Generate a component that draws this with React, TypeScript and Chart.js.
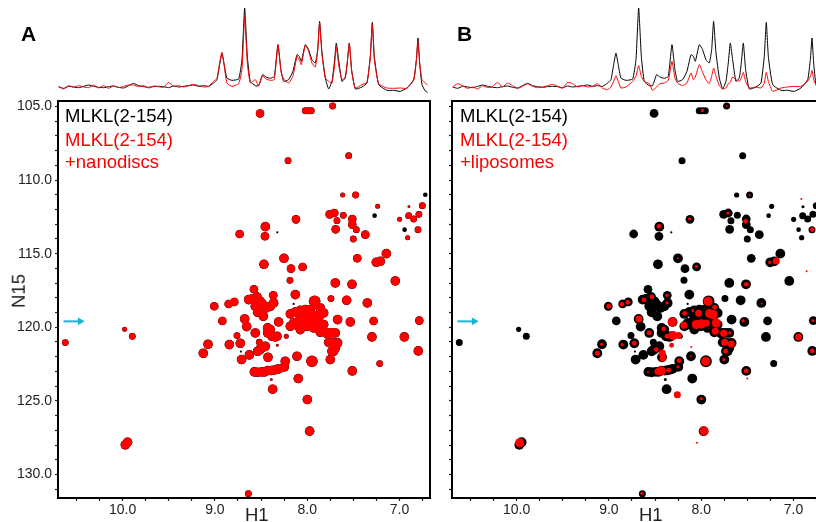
import React, { useEffect, useRef } from "react";
import { Chart, registerables } from "chart.js";

Chart.register(...registerables);

const FONT = "'Liberation Sans', Arial, sans-serif";
const RED = "#ff0000";
const BLACK = "#000000";
const CYAN = "#18b4d6";

// --- 1D traces: shared chemical shift grid (ppm) and intensities
const tracePpm = [
  10.693, 10.639, 10.585, 10.531, 10.476, 10.422, 10.368, 10.314, 10.26, 10.206, 10.152, 10.098, 10.043, 9.989, 9.935, 9.881,
  9.827, 9.773, 9.718, 9.664, 9.61, 9.556, 9.502, 9.447, 9.393, 9.339, 9.285, 9.231, 9.177, 9.122, 9.068,
  9.014, 8.978, 8.949, 8.924, 8.899, 8.87, 8.816, 8.743, 8.707, 8.678, 8.649, 8.617, 8.563, 8.527, 8.483, 8.447,
  8.4, 8.357, 8.317, 8.285, 8.256, 8.202, 8.155, 8.111, 8.086, 8.064, 8.021, 7.985, 7.949, 7.913, 7.887, 7.866,
  7.84, 7.804, 7.768, 7.732, 7.707, 7.685, 7.66, 7.624, 7.588, 7.566, 7.544, 7.519, 7.479, 7.407, 7.353, 7.317,
  7.295, 7.273, 7.226, 7.136, 7.064, 6.992, 6.92, 6.847, 6.818, 6.8, 6.782, 6.757, 6.721, 6.696,
];
const traceFree = [
  18, 14, 20, 18, 16, 20, 24, 20, 17, 16, 19, 21, 17, 15, 22, 29,
  22, 19, 17, 19, 20, 19, 16, 21, 18, 20, 22, 24, 20, 22, 20,
  30, 40, 85, 120, 85, 45, 38, 42, 100, 255, 110, 35, 22, 22, 55, 48,
  44, 50, 145, 70, 35, 40, 65, 115, 110, 95, 145, 130, 100, 90, 130, 215,
  120, 45, 12, 35, 90, 150, 100, 35, 45, 90, 150, 70, 12, 18, 30, 110,
  212, 110, 25, 8, 8, 5, 15, 40, 100, 165, 90, 25, 6, 2,
];
const traceNanodiscs = [
  20, 12, 22, 17, 22, 18, 16, 24, 15, 22, 14, 21, 16, 20, 24, 24,
  19, 22, 15, 21, 19, 17, 32, 20, 22, 18, 22, 26, 22, 18, 20,
  35, 44, 90, 122, 80, 30, 20, 28, 70, 228, 90, 30, 40, 22, 52, 42,
  38, 40, 145, 65, 42, 30, 50, 110, 100, 85, 143, 125, 90, 78, 125, 210,
  115, 45, 35, 30, 75, 138, 85, 40, 48, 95, 150, 65, 15, 25, 32, 105,
  205, 100, 28, 15, 14, 15, 14, 38, 95, 155, 90, 40, 30, 24,
];
const traceLiposomes = [
  18, 28, 22, 14, 18, 12, 22, 16, 20, 32, 18, 30, 22, 14, 20, 28,
  20, 16, 18, 22, 26, 20, 14, 32, 28, 18, 22, 18, 20, 28, 14,
  10, 18, 35, 52, 35, 15, 18, 35, 50, 82, 50, 35, 28, 8, 18, 28,
  30, 38, 95, 45, 30, 22, 30, 60, 40, 48, 85, 62, 40, 28, 50, 75,
  50, 22, 12, 15, 28, 32, 48, 40, 35, 45, 62, 35, 15, 18, 15, 30,
  62, 35, 5, 15, 18, 20, 20, 35, 50, 68, 40, 25, 20, 20,
];

// --- 2D peaks [H1 ppm, N15 ppm], grouped by contour size
const peaksXL = [[7.92, 118.236], [7.949, 122.309]];
const peaksL = [
  [8.454, 113.167], [8.252, 115.317], [8.469, 115.724], [7.696, 116.991], [7.515, 117.082], [7.046, 116.856], [8.129, 117.783],
  [7.573, 118.168], [7.349, 118.349], [7.143, 115.0], [7.208, 115.52], [7.252, 115.588], [8.476, 119.254], [7.671, 119.481],
  [7.533, 119.639], [8.678, 119.435], [8.656, 119.956], [8.31, 119.639], [8.563, 120.386], [7.299, 120.657], [6.948, 120.657],
  [9.075, 121.155], [8.844, 121.178], [8.725, 121.087], [8.627, 121.879], [8.425, 122.038], [9.126, 121.766], [8.711, 122.196],
  [8.111, 121.97], [7.75, 122.196], [8.238, 122.309], [8.248, 122.694], [7.512, 122.966], [8.097, 123.486], [8.375, 124.21],
  [7.999, 124.912], [6.797, 121.608], [8.635, 118.123], [8.544, 117.942], [8.563, 118.304], [8.526, 118.689], [8.537, 118.983],
  [8.443, 118.689], [8.4, 118.575], [8.364, 118.349], [8.183, 119.096], [8.075, 118.847], [7.967, 118.802], [7.858, 118.689],
  [7.822, 119.028], [7.931, 119.254], [8.021, 119.481], [8.183, 119.933], [8.129, 119.82], [8.057, 119.707], [7.967, 119.707],
  [7.894, 119.594], [7.822, 119.82], [8.075, 120.16], [7.858, 120.34], [7.768, 120.386], [7.696, 120.386], [8.4, 120.16],
  [8.382, 120.612], [8.328, 120.612], [7.768, 121.02], [7.714, 121.065], [7.671, 121.065], [7.696, 121.404], [7.732, 121.63],
  [8.508, 121.517], [8.454, 121.291], [8.573, 123.034], [8.49, 123.034], [8.429, 122.943], [8.364, 122.92], [8.31, 122.83],
  [9.946, 127.81], [9.971, 127.99], [7.974, 127.06],
  [8.129, 118.96], [8.021, 118.802], [7.913, 118.462], [7.876, 119.141], [7.985, 119.141], [8.057, 119.254], [8.093, 119.594],
  [8.003, 119.933], [7.931, 120.046], [8.147, 119.707], [7.84, 120.046], [7.876, 119.933], [7.786, 120.431], [7.732, 120.386],
  [7.949, 119.481], [7.876, 119.367], [8.075, 119.367], [8.599, 118.077], [8.508, 118.236], [8.563, 118.575], [8.49, 118.394],
  [8.472, 118.53], [8.537, 123.056], [8.461, 123.034], [8.393, 122.943], [8.335, 122.875], [8.508, 121.472], [8.479, 121.359],
  [8.537, 121.63], [8.429, 120.386], [8.429, 120.046], [8.346, 120.657], [7.75, 121.065], [7.685, 121.178], [7.714, 121.63],
];
const peaksM = [
  [8.122, 112.669], [8.732, 113.665], [8.458, 113.823], [7.692, 113.348], [7.707, 112.239], [7.757, 112.33], [7.512, 112.646],
  [7.512, 113.031], [7.371, 113.71], [8.176, 116.018], [8.05, 115.905], [8.577, 117.421], [8.368, 117.829], [9.007, 118.575],
  [8.851, 118.417], [8.79, 118.281], [8.92, 119.571], [7.281, 119.571], [6.786, 119.549], [7.458, 115.317], [8.511, 105.475],
];
const peaksS = [
  [7.476, 111.017], [6.753, 111.741], [6.901, 112.42], [6.79, 112.33], [6.847, 112.646], [7.678, 112.759], [7.468, 113.371],
  [7.501, 114.004], [6.8, 113.371], [8.187, 116.81], [7.743, 118.055], [8.761, 120.567], [8.519, 121.019], [7.215, 122.468],
  [7.609, 112.397], [8.021, 105.292], [7.988, 105.292], [7.956, 105.292], [7.725, 104.97], [8.208, 108.686], [7.551, 108.347],
  [9.895, 120.614], [10.621, 121.04], [8.638, 131.31],
];
const peaksXS = [
  [7.616, 111.017], [8.227, 120.612], [6.999, 112.669], [7.237, 111.786], [6.912, 113.914], [9.978, 120.139],
];
const peaksTiny = [[6.898, 111.809], [8.324, 121.223], [8.389, 123.554]];
const peaksFreeOnly = [[6.721, 110.994], [7.27, 112.42], [6.945, 113.371]];
const peaksFreeOnlyTiny = [[8.324, 113.552], [8.147, 118.417], [8.718, 121.653]];

// --- red contours remaining with liposomes
const lipoLarge = [
  [7.927, 118.236], [7.909, 119.073], [7.873, 119.141], [8.313, 119.639], [8.053, 119.82], [7.999, 119.775], [7.837, 119.707],
  [8.306, 120.567], [7.952, 122.309], [8.433, 122.966], [9.967, 127.85], [7.971, 127.06],
];
const lipoMedium = [
  [7.187, 115.498], [8.028, 119.051], [8.675, 119.435], [8.187, 119.865], [7.945, 119.707], [7.848, 120.273], [7.757, 120.408],
  [8.245, 120.567], [6.945, 120.657], [7.746, 121.02], [7.674, 121.133], [8.422, 121.744], [8.415, 122.083], [8.469, 123.011],
  [8.259, 124.58],
];
const lipoSmall = [
  [7.519, 112.805], [8.458, 113.144], [7.512, 117.082], [8.534, 117.942], [8.62, 118.145], [8.794, 118.304], [8.859, 118.44],
  [9.003, 118.575], [8.18, 119.051], [8.566, 120.386], [8.407, 120.114], [8.371, 120.612], [8.321, 121.223], [8.725, 121.087],
  [9.126, 121.766], [6.797, 121.608], [6.797, 113.371], [7.736, 121.63], [8.487, 121.517], [8.241, 122.264], [8.353, 122.92],
  [7.512, 122.966], [7.855, 118.643],
];
const lipoXS = [
  [7.71, 112.239], [8.126, 112.646], [8.053, 115.86], [7.259, 115.588], [8.371, 117.829], [8.371, 118.349], [7.548, 119.571],
  [6.79, 119.549], [9.079, 121.155], [8.855, 121.178], [7.754, 122.196], [8.252, 122.694], [7.999, 124.844], [7.988, 105.27],
  [8.642, 131.29], [8.09, 118.87], [7.692, 120.386],
];
const lipoTiny = [
  [7.476, 111.017], [6.916, 111.289], [6.858, 116.199], [7.346, 118.394], [8.108, 121.336], [7.501, 123.486], [8.577, 123.056],
  [8.115, 121.97], [8.252, 115.317], [8.047, 127.851], [7.722, 104.97],
];

// --- axes and annotations
const h1Ticks = [10.5, 10.25, 10, 9.75, 9.5, 9.25, 9, 8.75, 8.5, 8.25, 8, 7.75, 7.5, 7.25, 7, 6.75];
const n15Ticks = [105, 106, 107, 108, 109, 110, 111, 112, 113, 114, 115, 116, 117, 118, 119, 120, 121, 122, 123, 124, 125, 126, 127, 128, 129, 130, 131];
const arrowH1 = [10.64, 10.46];
const arrowN15 = [119.6, 119.6];

const H1_MIN = 6.67;
const H1_MAX = 10.7;
const N15_MIN = 104.63;
const N15_MAX = 131.6;
const TRACE_MAX = 270;

const toXY = (pairs: number[][]) => pairs.map(([x, y]) => ({ x, y }));

const peakSet = (pairs: number[][], color: string, radius: number, order: number) => ({
  type: "scatter" as const,
  data: toXY(pairs),
  pointRadius: radius,
  pointBackgroundColor: color,
  pointBorderWidth: 0,
  pointHoverRadius: radius,
  order,
});

const boxPlugin = {
  id: "box",
  afterDatasetsDraw(chart: any) {
    const { ctx, chartArea: a } = chart;
    ctx.save();
    ctx.strokeStyle = BLACK;
    ctx.lineWidth = 2;
    ctx.strokeRect(a.left, a.top, a.right - a.left, a.bottom - a.top);
    ctx.restore();
  },
};

function spectrumConfig(top: number[], bottom: number[]) {
  const line = (vals: number[], color: string, order: number) => ({
    data: tracePpm.map((x, i) => ({ x, y: vals[i] })),
    borderColor: color,
    borderWidth: 1,
    pointRadius: 0,
    tension: 0.15,
    order,
  });
  return {
    type: "line" as const,
    data: { datasets: [line(top, BLACK, 2), line(bottom, RED, 1)] },
    options: {
      animation: false as const,
      responsive: false,
      layout: { padding: { left: 58, right: 10, top: 3, bottom: 2 } },
      plugins: { legend: { display: false }, tooltip: { enabled: false } },
      scales: {
        x: { type: "linear" as const, reverse: true, min: H1_MIN, max: H1_MAX, display: false },
        y: { type: "linear" as const, min: 0, max: TRACE_MAX, display: false },
      },
    },
  };
}

function mapConfig(datasets: any[], showYLabels: boolean) {
  const arrow = {
    type: "scatter" as const,
    data: arrowH1.map((x, i) => ({ x, y: arrowN15[i] })),
    showLine: true,
    borderColor: CYAN,
    borderWidth: 2,
    pointStyle: "triangle",
    rotation: 90,
    pointRadius: [0, 4.5],
    pointBackgroundColor: CYAN,
    pointBorderWidth: 0,
    order: 0,
  };
  return {
    type: "scatter" as const,
    data: { datasets: [...datasets, arrow] },
    options: {
      animation: false as const,
      responsive: false,
      layout: { padding: { left: 0, right: 10, top: 6, bottom: 0 } },
      plugins: { legend: { display: false }, tooltip: { enabled: false } },
      scales: {
        x: {
          type: "linear" as const,
          reverse: true,
          min: H1_MIN,
          max: H1_MAX,
          afterBuildTicks: (s: any) => {
            s.ticks = h1Ticks.map((value) => ({ value }));
          },
          afterFit: (s: any) => {
            s.height = 24;
            s.paddingLeft = 0;
            s.paddingRight = 0;
          },
          grid: { drawOnChartArea: false, tickLength: 3, tickColor: "#222", tickWidth: 1.2 },
          border: { display: false },
          ticks: {
            autoSkip: false,
            maxRotation: 0,
            padding: 1,
            color: "#222",
            font: { family: FONT, size: 14 },
            callback: (v: any) => (Number.isInteger(v) ? Number(v).toFixed(1) : ""),
          },
        },
        y: {
          type: "linear" as const,
          reverse: true,
          min: N15_MIN,
          max: N15_MAX,
          afterBuildTicks: (s: any) => {
            s.ticks = n15Ticks.map((value) => ({ value }));
          },
          afterFit: (s: any) => {
            s.width = 58;
            s.paddingTop = 0;
            s.paddingBottom = 0;
          },
          grid: { drawOnChartArea: false, tickLength: 3, tickColor: "#222", tickWidth: 1.2 },
          border: { display: false },
          ticks: {
            autoSkip: false,
            padding: 3,
            color: "#222",
            font: { family: FONT, size: 14 },
            callback: (v: any) => (showYLabels && Number(v) % 5 === 0 ? Number(v).toFixed(1) : ""),
          },
        },
      },
    },
    plugins: [boxPlugin],
  };
}

const freeSets = (order: number, grow: number) => [
  peakSet(peaksXL, BLACK, 5.6 + grow, order),
  peakSet(peaksL, BLACK, 4.6 + grow, order),
  peakSet(peaksM, BLACK, 4.1 + grow, order),
  peakSet(peaksS, BLACK, 3.2 + grow, order),
  peakSet(peaksXS, BLACK, 2.3 + grow, order),
  peakSet(peaksTiny, BLACK, 1.2 + grow, order),
  peakSet(peaksFreeOnly, BLACK, 2.3, order),
  peakSet(peaksFreeOnlyTiny, BLACK, 1.1, order),
];

const nanodiscSets = [
  peakSet(peaksXL, RED, 5.6, 2),
  peakSet(peaksL, RED, 4.6, 2),
  peakSet(peaksM, RED, 4.1, 2),
  peakSet(peaksS, RED, 3.2, 2),
  peakSet(peaksXS, RED, 2.3, 2),
  peakSet(peaksTiny, RED, 1.2, 2),
];

const liposomeSets = [
  peakSet(lipoLarge, RED, 4.6, 2),
  peakSet(lipoMedium, RED, 3.5, 2),
  peakSet(lipoSmall, RED, 2.4, 2),
  peakSet(lipoXS, RED, 1.6, 2),
  peakSet(lipoTiny, RED, 1, 2),
];

function Label(props: { x: number; y: number; size: number; color?: string; bold?: boolean; rotate?: boolean; children: React.ReactNode }) {
  const { x, y, size, color = BLACK, bold, rotate, children } = props;
  return (
    <div
      style={{
        position: "absolute",
        left: x,
        top: y,
        fontFamily: FONT,
        fontSize: size,
        fontWeight: bold ? 700 : 400,
        color,
        lineHeight: 1,
        whiteSpace: "nowrap",
        transform: rotate ? "translate(-50%,-50%) rotate(-90deg)" : "translate(0,-50%)",
      }}
    >
      {children}
    </div>
  );
}

export default function App() {
  const specA = useRef<HTMLCanvasElement>(null);
  const specB = useRef<HTMLCanvasElement>(null);
  const mapA = useRef<HTMLCanvasElement>(null);
  const mapB = useRef<HTMLCanvasElement>(null);

  useEffect(() => {
    const charts = [
      new Chart(specA.current!, spectrumConfig(traceFree, traceNanodiscs) as any),
      new Chart(specB.current!, spectrumConfig(traceFree, traceLiposomes) as any),
      new Chart(mapA.current!, mapConfig([...freeSets(3, 0.2), ...nanodiscSets], true) as any),
      new Chart(mapB.current!, mapConfig([...freeSets(3, 0.3), ...liposomeSets], false) as any),
    ];
    return () => charts.forEach((c) => c.destroy());
  }, []);

  const canvasStyle = (left: number, top: number): React.CSSProperties => ({ position: "absolute", left, top, display: "block" });

  return (
    <div style={{ position: "fixed", left: 0, top: 0, width: 816, height: 522, overflow: "hidden", background: "#fff" }}>
      <canvas ref={specA} width={440} height={95} style={canvasStyle(0, 0)} />
      <canvas ref={specB} width={440} height={95} style={canvasStyle(394, 0)} />
      <canvas ref={mapA} width={440} height={427} style={canvasStyle(0, 95)} />
      <canvas ref={mapB} width={440} height={427} style={canvasStyle(394, 95)} />
      <Label x={21} y={33} size={21} bold>A</Label>
      <Label x={457} y={33} size={21} bold>B</Label>
      <Label x={65} y={116} size={18.5}>MLKL(2-154)</Label>
      <Label x={65} y={140} size={18.5} color={RED}>MLKL(2-154)</Label>
      <Label x={65} y={162} size={18.5} color={RED}>+nanodiscs</Label>
      <Label x={460} y={116} size={18.5}>MLKL(2-154)</Label>
      <Label x={460} y={140} size={18.5} color={RED}>MLKL(2-154)</Label>
      <Label x={460} y={162} size={18.5} color={RED}>+liposomes</Label>
      <Label x={245} y={515} size={18.5} color="#222">H1</Label>
      <Label x={639} y={515} size={18.5} color="#222">H1</Label>
      <Label x={19} y={291} size={18.5} color="#222" rotate>N15</Label>
    </div>
  );
}
